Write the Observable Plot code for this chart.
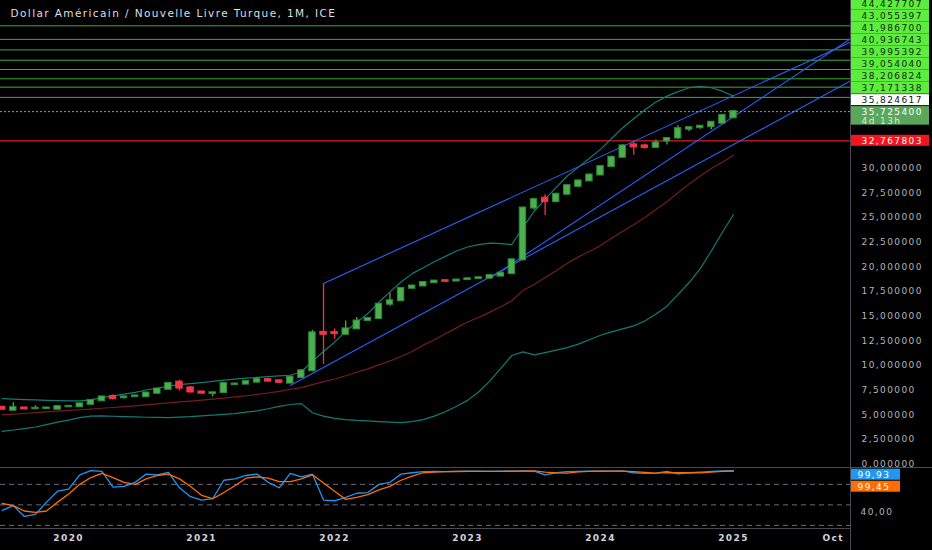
<!DOCTYPE html>
<html>
<head>
<meta charset="utf-8">
<script src="https://cdn.jsdelivr.net/npm/d3@7"></script>
<script src="https://cdn.jsdelivr.net/npm/@observablehq/plot@0.6"></script>
<style>
html,body{margin:0;padding:0;background:#000;}
#wrap{position:relative;width:932px;height:550px;overflow:hidden;background:#000;}
#main{position:absolute;left:0;top:0;}
#stoch{position:absolute;left:0;top:467px;}
.sep{position:absolute;background:#474a53;}
</style>
</head>
<body>
<div id="wrap">
  <div id="stoch"></div>
  <div id="main"></div>
  <div class="sep" style="left:0;top:467px;width:932px;height:1px"></div>
  <div class="sep" style="left:850px;top:0;width:1px;height:550px"></div>
</div>
<script>
// ---------------- DATA ----------------
const title = "Dollar Américain / Nouvelle Livre Turque, 1M, ICE";

const months = [
 "2019-07","2019-08","2019-09","2019-10","2019-11","2019-12",
 "2020-01","2020-02","2020-03","2020-04","2020-05","2020-06","2020-07","2020-08","2020-09","2020-10","2020-11","2020-12",
 "2021-01","2021-02","2021-03","2021-04","2021-05","2021-06","2021-07","2021-08","2021-09","2021-10","2021-11","2021-12",
 "2022-01","2022-02","2022-03","2022-04","2022-05","2022-06","2022-07","2022-08","2022-09","2022-10","2022-11","2022-12",
 "2023-01","2023-02","2023-03","2023-04","2023-05","2023-06","2023-07","2023-08","2023-09","2023-10","2023-11","2023-12",
 "2024-01","2024-02","2024-03","2024-04","2024-05","2024-06","2024-07","2024-08","2024-09","2024-10","2024-11","2024-12",
 "2025-01"];

const open = [5.75,5.45,5.68,5.60,5.63,5.55,5.80,5.80,6.05,6.40,6.83,6.72,6.83,6.82,7.17,7.57,8.30,7.72,7.30,7.15,
 7.25,8.05,8.10,8.30,8.55,8.43,8.20,8.78,9.45,13.35,13.32,13.15,13.70,14.55,14.75,16.20,16.55,17.82,18.05,18.38,
 18.58,18.55,18.70,18.80,18.85,19.05,19.30,20.70,25.95,26.95,26.60,27.35,28.15,28.70,29.30,30.15,31.10,32.35,32.25,32.10,
 32.75,33.05,33.95,34.10,34.20,34.55,35.10];
const high = [5.85,6.20,5.72,5.90,5.72,5.88,5.88,6.12,6.50,6.85,7.02,6.85,6.95,7.25,7.65,8.22,8.50,7.85,7.35,7.25,
 8.25,8.20,8.40,8.75,8.70,8.55,8.90,9.55,13.55,18.30,13.70,14.50,14.85,14.80,16.25,17.30,17.85,18.10,18.45,18.60,
 18.70,18.72,18.85,18.95,19.15,19.40,20.75,26.05,26.95,27.30,27.45,28.30,28.80,29.40,30.25,31.20,32.40,32.70,32.45,32.85,
 33.05,34.30,34.12,34.30,34.70,35.45,35.80];
const low = [5.50,5.40,5.55,5.55,5.58,5.52,5.75,5.78,5.92,6.35,6.50,6.58,6.80,6.80,7.10,7.55,7.40,7.20,7.12,6.82,
 7.15,7.95,8.05,8.20,8.35,8.15,8.15,8.75,9.35,10.10,12.65,13.10,13.65,14.50,14.70,16.00,16.50,17.75,18.00,18.35,
 18.45,18.50,18.65,18.75,18.80,19.00,19.25,20.60,25.75,25.20,26.50,27.30,28.00,28.65,29.25,30.10,31.00,31.30,31.90,32.00,
 32.35,32.90,33.70,33.95,33.90,34.50,35.05];
const close = [5.55,5.72,5.58,5.65,5.68,5.82,5.85,6.10,6.45,6.80,6.63,6.80,6.90,7.20,7.60,8.17,7.70,7.30,7.18,7.22,
 8.15,8.10,8.35,8.60,8.40,8.28,8.80,9.45,13.30,13.15,13.22,13.70,14.50,14.75,16.20,16.55,17.80,18.05,18.40,18.55,
 18.52,18.65,18.78,18.88,19.10,19.35,20.70,25.95,26.80,26.60,27.35,28.22,28.70,29.30,30.15,31.10,32.25,32.15,32.10,32.55,
 33.00,34.00,34.10,34.25,34.65,35.35,35.73];

// Bollinger bands
const bbUpper = [6.62,6.58,6.53,6.50,6.45,6.42,6.40,6.40,6.50,6.73,6.90,7.08,7.26,7.50,7.70,7.90,8.05,8.15,8.25,8.37,
 8.50,8.60,8.70,8.78,8.86,8.93,9.00,9.35,10.40,11.40,12.35,13.45,14.35,15.25,16.40,17.45,18.45,19.30,19.90,20.50,
 21.05,21.60,22.00,22.25,22.40,22.35,22.25,24.00,25.60,26.85,28.05,29.20,30.10,31.00,31.90,33.00,34.10,35.00,35.90,36.70,
 37.30,37.75,38.15,38.30,38.15,37.80,37.30];
const bbBasis = [4.98,5.05,5.12,5.20,5.28,5.36,5.43,5.50,5.57,5.65,5.73,5.82,5.90,6.00,6.10,6.20,6.30,6.38,6.47,6.57,
 6.68,6.80,6.92,7.05,7.20,7.37,7.58,7.75,8.05,8.35,8.62,8.95,9.30,9.65,10.05,10.45,10.90,11.40,12.05,12.60,
 13.20,13.80,14.40,14.85,15.40,15.95,16.55,17.60,18.20,18.90,19.60,20.35,21.00,21.55,22.15,22.90,23.60,24.25,25.00,25.80,
 26.60,27.50,28.40,29.20,29.95,30.60,31.30];
const bbLower = [3.30,3.45,3.58,3.75,4.00,4.25,4.45,4.70,4.85,4.87,4.84,4.80,4.77,4.74,4.72,4.70,4.75,4.80,4.88,4.95,
 5.03,5.10,5.25,5.38,5.60,5.85,6.03,6.12,5.20,4.85,4.62,4.50,4.42,4.37,4.30,4.25,4.20,4.30,4.50,4.85,
 5.30,5.85,6.45,7.30,8.40,9.70,11.00,11.37,11.07,11.30,11.55,11.80,12.15,12.60,13.05,13.40,13.70,14.00,14.50,15.20,
 16.00,17.20,18.40,19.80,21.60,23.50,25.30];

// Stochastic RSI
const stochK = [42,49,33,36,54,70,73,94,100,99,76,77,83,95,94,97.5,75,62,57,59,
 86,88,93,95,83,75,96,91,95,57,56,61,67,68,80,83,95,97,98.5,99,
 98.5,99,99.2,99.3,99,99.2,99.5,99.8,99.5,94,97,98.5,99,99.2,99.3,99.5,99.6,97,96,96.5,
 99,95.5,97,98,99,99.7,99.93];
const stochD = [52,49,41,39,41,54,66,80,90,96,90,83,80,88,93,95,88,77,64,59,
 68,78,89,91,89,84,84,88,94,82,70,58,61,65,72,77,86,92,97,98,
 98.5,98.8,99,99.1,99.1,99.1,99.2,99.5,99.6,97.8,96.8,96.5,98.2,98.9,99.2,99.3,99.5,98.7,97.5,96.5,
 97.2,97,97.2,96.8,98,98.9,99.45];

// Horizontal levels and labels
const greenLevels = [44.427707,43.055397,41.986700,40.936743,39.995392,39.054040,38.206824,37.171338];
const whiteLevel = 35.824617;
const lastPrice = 35.725400;
const timerText = "4d 13h";
const redLevel = 32.767803;

// Trend channel drawings [month, price]
const channelA = [["2021-12",18.30],["2025-12",43.00]];
const channelB = [["2021-09",7.95],["2025-12",39.11]];
const channelC = [["2023-03",18.81],["2025-12",43.43]];

const priceTicks = [0,2.5,5,7.5,10,12.5,15,17.5,20,22.5,25,27.5,30];
const stochTicks = [40];
const stochBands = [80,50,20];
const timeTicks = ["2020-01","2021-01","2022-01","2023-01","2024-01","2025-01","2025-10"];
const timeLabels = ["2020","2021","2022","2023","2024","2025","Oct"];

// ---------------- LAYOUT ----------------
const idx = m => { const [y, mo] = m.split("-").map(Number); return (y - 2019) * 12 + (mo - 7); };
const fmt6 = v => v.toFixed(6).replace(".", ",");
const fmt2 = v => v.toFixed(2).replace(".", ",");

const FRAME_R = 850, W = 932;
const xDomain = [(0 - 1.7) / 11.08, (FRAME_R - 1.7) / 11.08];
const yDomain = [(463.5 - 467) / 9.863, 463.5 / 9.863];
const sDomain = [15.41, 104.68];

const xs = d3.scaleLinear(xDomain, [0, FRAME_R]);
const ys = d3.scaleLinear(yDomain, [467, 0]);
const ss = d3.scaleLinear(sDomain, [61, 0]);

const UP = "#4caf50", UP_EDGE = "#2f8a35", DN = "#f23645";

const candles = months.map((m, k) => ({i: idx(m), o: open[k], h: high[k], l: low[k], c: close[k]}));
const bands = months.map((m, k) => ({i: idx(m), u: bbUpper[k], b: bbBasis[k], lo: bbLower[k]}));
const stoch = months.map((m, k) => ({i: idx(m), k: stochK[k], d: stochD[k]}));
const toPts = arr => arr.map(([m, v]) => ({i: idx(m), v}));

// right-side price labels (stacked to avoid overlap)
const boxes = [], texts = [];
const curTop = ys(lastPrice) - 5;
boxes.push({a: ys.invert(curTop), b: ys.invert(curTop + 18.5), f: "#5aa75c"});
texts.push({v: ys.invert(curTop + 5.2), t: fmt6(lastPrice), f: "#ffffff"});
texts.push({v: ys.invert(curTop + 14.2), t: timerText, f: "#d6ecd6"});
let cpos = Math.min(ys(whiteLevel), curTop - 1 - 5.5);
boxes.push({a: ys.invert(cpos - 5.5), b: ys.invert(cpos + 5.5), f: "#ffffff"});
texts.push({v: ys.invert(cpos), t: fmt6(whiteLevel), f: "#131313"});
[...greenLevels].sort((a, b) => a - b).forEach(v => {
  cpos = Math.min(ys(v), cpos - 12);
  boxes.push({a: ys.invert(cpos - 6), b: ys.invert(cpos + 6), f: "#5ced3e"});
  texts.push({v: ys.invert(cpos), t: fmt6(v), f: "#0f2a0a"});
});
const rpos = ys(redLevel);
boxes.push({a: ys.invert(rpos - 5.5), b: ys.invert(rpos + 5.5), f: "#f0151f"});
texts.push({v: ys.invert(rpos), t: fmt6(redLevel), f: "#ffffff"});

const bx1 = xs.invert(851), bx2 = xs.invert(929), tx = xs.invert(861);

const baseStyle = {fontFamily: "'DejaVu Sans', sans-serif", fontSize: "9px", letterSpacing: "1.4px", color: "#b2b5be"};

const main = Plot.plot({
  width: W, height: 467,
  marginLeft: 0, marginRight: W - FRAME_R, marginTop: 0, marginBottom: 0,
  style: {...baseStyle, background: "transparent", overflow: "visible"},
  x: {domain: xDomain, axis: null},
  y: {domain: yDomain, axis: null},
  color: {type: "identity"},
  marks: [
    Plot.ruleY(greenLevels, {stroke: "#3cae32", strokeWidth: 1}),
    Plot.ruleY([redLevel], {stroke: "#e01b1b", strokeWidth: 1.2}),
    Plot.line(bands, {x: "i", y: "u", stroke: "#137a74", strokeWidth: 1.2}),
    Plot.line(bands, {x: "i", y: "lo", stroke: "#137a74", strokeWidth: 1.2}),
    Plot.line(bands, {x: "i", y: "b", stroke: "#751d1d", strokeWidth: 1.2}),
    ...[channelA, channelB, channelC].map(c => Plot.line(toPts(c), {x: "i", y: "v", stroke: "#2962ff", strokeWidth: 1.1, clip: true})),
    Plot.ruleY([lastPrice], {stroke: "#9a9a9a", strokeDasharray: "2,2", strokeWidth: 1}),
    Plot.ruleX(candles, {x: "i", y1: "l", y2: "h", stroke: d => d.c >= d.o ? UP : DN, strokeWidth: 1.3}),
    Plot.rect(candles, {x1: d => d.i - 0.29, x2: d => d.i + 0.29, y1: "o", y2: "c",
      fill: d => d.c >= d.o ? UP : DN, stroke: d => d.c >= d.o ? UP_EDGE : DN, strokeWidth: 1,
      insetTop: -0.5, insetBottom: -0.5}),
    Plot.axisY({ticks: priceTicks, anchor: "right", tickSize: 0, tickPadding: 11, tickFormat: fmt6, fill: "#b2b5be", fontSize: 9, label: null}),
    Plot.rect(boxes, {x1: () => bx1, x2: () => bx2, y1: "a", y2: "b", fill: "f"}),
    Plot.text(texts, {x: () => tx, y: "v", text: "t", fill: "f", textAnchor: "start", lineAnchor: "middle", fontSize: 9}),
    Plot.text([title], {frameAnchor: "top-left", dx: 10, dy: 13, lineAnchor: "middle", textAnchor: "start", fill: "#dcdfe6", fontSize: 10.5, letterSpacing: "1.1px"})
  ]
});
document.getElementById("main").append(main);

// stochastic pane
const last = stoch[stoch.length - 1];
const kC = Math.max(ss(last.k), 7.2), dC = kC + 12;
const sBoxes = [
  {a: ss.invert(kC - 5.5), b: ss.invert(kC + 5.5), f: "#2196f3"},
  {a: ss.invert(dC - 5.5), b: ss.invert(dC + 5.5), f: "#ff6d00"}];
const sTexts = [
  {v: ss.invert(kC), t: fmt2(last.k)},
  {v: ss.invert(dC), t: fmt2(last.d)}];
const sx1 = xs.invert(851), sx2 = xs.invert(900), stx = xs.invert(857);
const tickLabel = new Map(timeTicks.map((m, k) => [idx(m), timeLabels[k]]));

const sp = Plot.plot({
  width: W, height: 83,
  marginLeft: 0, marginRight: W - FRAME_R, marginTop: 0, marginBottom: 22,
  style: {...baseStyle, background: "#000", overflow: "hidden"},
  x: {domain: xDomain, axis: null},
  y: {domain: sDomain, axis: null},
  color: {type: "identity"},
  marks: [
    Plot.ruleY(stochBands, {stroke: "#6a6d78", strokeDasharray: "5,4", strokeWidth: 1}),
    Plot.line(stoch, {x: "i", y: "k", stroke: "#2196f3", strokeWidth: 1.3}),
    Plot.line(stoch, {x: "i", y: "d", stroke: "#ff6d00", strokeWidth: 1.3}),
    Plot.ruleY([sDomain[0]], {stroke: "#474a53", strokeWidth: 1}),
    Plot.axisY({ticks: stochTicks, anchor: "right", tickSize: 0, tickPadding: 10, tickFormat: fmt2, fill: "#b2b5be", fontSize: 9, label: null}),
    Plot.rect(sBoxes, {x1: () => sx1, x2: () => sx2, y1: "a", y2: "b", fill: "f"}),
    Plot.text(sTexts, {x: () => stx, y: "v", text: "t", fill: "#ffffff", textAnchor: "start", lineAnchor: "middle", fontSize: 9}),
    Plot.axisX({ticks: timeTicks.map(idx), anchor: "bottom", tickSize: 0, tickPadding: 6, tickFormat: d => tickLabel.get(d), fill: "#d1d4dc", fontWeight: "bold", fontSize: 9, label: null})
  ]
});
document.getElementById("stoch").append(sp);
</script>
</body>
</html>
